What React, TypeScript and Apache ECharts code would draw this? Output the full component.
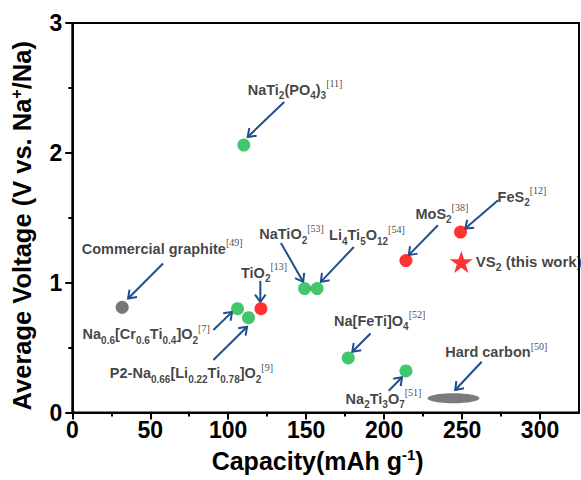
import React, { useEffect, useRef } from "react";
import * as echarts from "echarts";

const FONT = "'Liberation Sans', Arial, Helvetica, sans-serif";
const SERIF = "'Liberation Serif', 'Times New Roman', serif";

// ---- data (capacity in mAh g-1, average voltage in V) ----
const greenCapacity = [106, 113, 149, 157, 110, 177, 214];
const greenVoltage = [0.8, 0.73, 0.955, 0.955, 2.06, 0.42, 0.32];
const redCapacity = [121, 214, 249];
const redVoltage = [0.8, 1.17, 1.39];
const graphiteCapacity = [32];
const graphiteVoltage = [0.81];
const hardCarbonCapacity = [244.5];
const hardCarbonVoltage = [0.11];
const vs2Capacity = [249.5];
const vs2Voltage = [1.16];

const xTickLabels = [0, 50, 100, 150, 200, 250, 300];
const xMinorTicks = [25, 75, 125, 175, 225, 275];

// ---- annotations (anchor = left end of label, in data units) ----
const annotationTexts = [
  "Commercial graphite^{[49]}",
  "Na_{0.6}[Cr_{0.6}Ti_{0.4}]O_{2}^{[7]}",
  "P2-Na_{0.66}[Li_{0.22}Ti_{0.78}]O_{2}^{[9]}",
  "TiO_{2}^{[13]}",
  "NaTiO_{2}^{[53]}",
  "Li_{4}Ti_{5}O_{12}^{[54]}",
  "NaTi_{2}(PO_{4})_{3}^{[11]}",
  "Na[FeTi]O_{4}^{[52]}",
  "Na_{2}Ti_{3}O_{7}^{[51]}",
  "MoS_{2}^{[38]}",
  "FeS_{2}^{[12]}",
  "Hard carbon^{[50]}",
];
const annotationX = [6.0, 6.6, 24.1, 108.2, 119.9, 164.7, 112.5, 167.9, 175.3, 220.1, 272.8, 239.2];
const annotationY = [1.263, 0.604, 0.302, 1.075, 1.371, 1.365, 2.486, 0.706, 0.104, 1.532, 1.66, 0.463];

const arrowFromX = [58.2, 90.5, 90.5, 120.6, 133.8, 180.6, 135.9, 191.3, 203, 234.5, 273.1, 262.6];
const arrowFromY = [1.148, 0.635, 0.404, 1.014, 1.306, 1.275, 2.391, 0.609, 0.168, 1.442, 1.635, 0.391];
const arrowToX = [35.8, 102.5, 112.1, 120.6, 148.1, 159.4, 112.5, 179.6, 211.5, 215.8, 252, 245.6];
const arrowToY = [0.878, 0.775, 0.66, 0.852, 1.006, 1.006, 2.122, 0.468, 0.271, 1.212, 1.417, 0.173];

const STAR =
  "path://M50,0 L61.8,35.4 L99,35.4 L69,57.3 L80.3,92.7 L50,70.8 L19.7,92.7 L31,57.3 L1,35.4 L38.2,35.4 Z";
const ELLIPSE =
  "path://M0,50 C0,22 22,0 50,0 C78,0 100,22 100,50 C100,78 78,100 50,100 C22,100 0,78 0,50 Z";

function toRich(s: string): string {
  let out = "";
  const re = /([_^])\{([^}]*)\}|([^_^]+)/g;
  let m: RegExpExecArray | null;
  while ((m = re.exec(s))) {
    if (m[3]) out += `{b|${m[3]}}`;
    else if (m[1] === "_") out += `{s|${m[2]}}`;
    else out += `{r|${m[2]}}`;
  }
  return out;
}

const zip = (a: number[], b: number[]) => a.map((v, i) => [v, b[i]]);

const labelRich = {
  b: { fontSize: 14.5, fontWeight: "bold", fontFamily: FONT, color: "#111", lineHeight: 22 },
  s: { fontSize: 10, fontWeight: "bold", fontFamily: FONT, color: "#111", lineHeight: 14, verticalAlign: "bottom" },
  r: { fontSize: 10, fontFamily: SERIF, color: "#111", lineHeight: 19, verticalAlign: "top" },
  v: { fontSize: 15, fontWeight: "bold", fontFamily: FONT, color: "#111", lineHeight: 22 },
  vs: { fontSize: 10.5, fontWeight: "bold", fontFamily: FONT, color: "#111", lineHeight: 14, verticalAlign: "bottom" },
};

const ARROW = "#1f4e8c";
const GRID = { left: 72.3, right: 2, top: 23, bottom: 67.5 };

export default function App() {
  const ref = useRef<HTMLDivElement>(null);
  useEffect(() => {
    if (!ref.current) return;
    const chart = echarts.init(ref.current, undefined, { renderer: "svg" });
    const tickLabelStyle = {
      fontSize: 23,
      fontWeight: "bold" as const,
      fontFamily: FONT,
      color: "#000",
    };
    const option: any = {
      animation: false,
      grid: [
        { ...GRID, show: true, borderColor: "#000", borderWidth: 2, backgroundColor: "transparent" },
        { ...GRID },
      ],
      xAxis: [
        {
          type: "value",
          gridIndex: 0,
          min: 0,
          max: 325,
          axisLine: { show: true, lineStyle: { color: "#000", width: 2 } },
          axisTick: { show: true, customValues: xMinorTicks, length: 4, lineStyle: { color: "#000", width: 2 } },
          axisLabel: { ...tickLabelStyle, customValues: xTickLabels, margin: 6 },
          splitLine: { show: false },
          name: "{t|Capacity(mAh g}{p|-1}{t|)}",
          nameLocation: "middle",
          nameGap: 34,
          nameTextStyle: {
            fontSize: 25,
            fontWeight: "bold",
            fontFamily: FONT,
            color: "#000",
            padding: [0, 16, 0, 0],
            rich: {
              t: { fontSize: 25, fontWeight: "bold", fontFamily: FONT, color: "#000", lineHeight: 28 },
              p: { fontSize: 15, fontWeight: "bold", fontFamily: FONT, color: "#000", lineHeight: 17, verticalAlign: "top" },
            },
          },
        },
        {
          type: "value",
          gridIndex: 1,
          min: 0,
          max: 325,
          axisLine: { show: false },
          axisTick: { show: true, customValues: xTickLabels, length: 7, lineStyle: { color: "#000", width: 2 } },
          axisLabel: { show: false },
          splitLine: { show: false },
        },
      ],
      yAxis: [
        {
          type: "value",
          gridIndex: 0,
          min: 0,
          max: 3,
          interval: 1,
          axisLine: { show: true, lineStyle: { color: "#000", width: 2 } },
          axisTick: { show: true, length: 7, lineStyle: { color: "#000", width: 2 } },
          minorTick: { show: true, splitNumber: 2, length: 4, lineStyle: { color: "#000", width: 2 } },
          axisLabel: { ...tickLabelStyle, margin: 10 },
          splitLine: { show: false },
          minorSplitLine: { show: false },
          name: "{t|Average Voltage (V vs. Na}{p|+}{t|/Na)}",
          nameLocation: "middle",
          nameGap: 36,
          nameTextStyle: {
            fontSize: 25.5,
            fontWeight: "bold",
            fontFamily: FONT,
            color: "#000",
            padding: [0, 16, 0, 0],
            rich: {
              t: { fontSize: 25.5, fontWeight: "bold", fontFamily: FONT, color: "#000", lineHeight: 28 },
              p: { fontSize: 16, fontWeight: "bold", fontFamily: FONT, color: "#000", lineHeight: 17, verticalAlign: "top" },
            },
          },
        },
        { type: "value", gridIndex: 1, min: 0, max: 3, show: false },
      ],
      series: [
        {
          type: "custom",
          xAxisIndex: 0,
          yAxisIndex: 0,
          silent: true,
          clip: false,
          encode: { x: [0, 2], y: [1, 3] },
          data: arrowFromX.map((x, i) => [x, arrowFromY[i], arrowToX[i], arrowToY[i]]),
          renderItem: (_p: any, api: any) => {
            const p1 = api.coord([api.value(0), api.value(1)]);
            const p2 = api.coord([api.value(2), api.value(3)]);
            const ang = Math.atan2(p2[1] - p1[1], p2[0] - p1[0]);
            const L = 9;
            const a = Math.PI / 5;
            const h1 = [p2[0] - L * Math.cos(ang - a), p2[1] - L * Math.sin(ang - a)];
            const h2 = [p2[0] - L * Math.cos(ang + a), p2[1] - L * Math.sin(ang + a)];
            return {
              type: "group",
              children: [
                {
                  type: "line",
                  shape: { x1: p1[0], y1: p1[1], x2: p2[0], y2: p2[1] },
                  style: { stroke: ARROW, lineWidth: 2 },
                },
                {
                  type: "polyline",
                  shape: { points: [h1, p2, h2] },
                  style: { stroke: ARROW, lineWidth: 2, fill: null },
                },
              ],
            };
          },
        },
        {
          type: "scatter",
          name: "green",
          data: zip(greenCapacity, greenVoltage),
          symbol: "circle",
          symbolSize: 13,
          itemStyle: { color: "#13b84a" },
          silent: true,
        },
        {
          type: "scatter",
          name: "red",
          data: zip(redCapacity, redVoltage),
          symbol: "circle",
          symbolSize: 13,
          itemStyle: { color: "#ff0000" },
          silent: true,
        },
        {
          type: "scatter",
          name: "graphite",
          data: zip(graphiteCapacity, graphiteVoltage),
          symbol: "circle",
          symbolSize: 13,
          itemStyle: { color: "#555555" },
          silent: true,
        },
        {
          type: "scatter",
          name: "hard carbon",
          data: zip(hardCarbonCapacity, hardCarbonVoltage),
          symbol: ELLIPSE,
          symbolSize: [52, 10],
          itemStyle: { color: "#5a5a5a" },
          silent: true,
        },
        {
          type: "scatter",
          name: "VS2",
          data: zip(vs2Capacity, vs2Voltage),
          symbol: STAR,
          symbolSize: [23, 22],
          itemStyle: { color: "#ff0000" },
          silent: true,
          label: {
            show: true,
            position: "right",
            distance: 3,
            formatter: "{v|VS}{vs|2}{v| (this work)}",
            rich: labelRich,
          },
        },
        {
          type: "scatter",
          name: "labels",
          data: zip(annotationX, annotationY),
          symbolSize: 0,
          silent: true,
          label: {
            show: true,
            position: "right",
            distance: 0,
            formatter: (p: any) => toRich(annotationTexts[p.dataIndex]),
            rich: labelRich,
          },
        },
      ],
    };
    chart.setOption(option);
    return () => chart.dispose();
  }, []);
  return (
    <div
      ref={ref}
      style={{ position: "absolute", left: 0, top: 0, width: 581, height: 480, background: "#fff" }}
    />
  );
}
